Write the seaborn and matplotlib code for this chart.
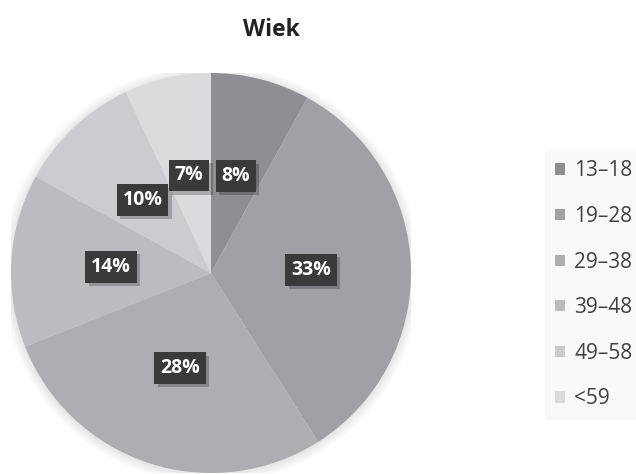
import matplotlib
matplotlib.use("Agg")
import matplotlib.pyplot as plt
import matplotlib.patheffects as pe
from matplotlib.patches import Patch, Circle
import seaborn as sns

# Age groups and their share of respondents (%)
age_groups = ["13\u201318", "19\u201328", "29\u201338", "39\u201348", "49\u201358", "<59"]
shares = [8, 33, 28, 14, 10, 7]
slice_colors = ["#8e8f93", "#a0a1a5", "#adaeb2", "#bbbcc0", "#cbcccf", "#dadbdd"]
title_text = "Wiek"

sns.set_theme(style="white")
plt.rcParams["font.family"] = ["Open Sans", "DejaVu Sans"]

fig = plt.figure(figsize=(6.36, 4.74), dpi=100)
fig.patch.set_facecolor("white")

W, H = 636, 474
cx, cy, r = 211, 273, 200
ax = fig.add_axes([(cx - r) / W, (H - cy - r) / H, 2 * r / W, 2 * r / H])
ax.set_xlim(-1, 1)
ax.set_ylim(-1, 1)
ax.set_aspect("equal")
ax.axis("off")

# soft halo around the pie
for k in range(8):
    ax.add_patch(Circle((0.0, -0.005), 1.0 + 0.006 * (k + 1), color="#808080",
                        alpha=0.018, lw=0, zorder=0))

wedges, texts, autotexts = ax.pie(
    shares, colors=slice_colors, startangle=90, counterclock=False,
    radius=1.0, autopct="%d%%", pctdistance=0.5,
    wedgeprops=dict(linewidth=0), frame=False,
)
ax.set_xlim(-1, 1)
ax.set_ylim(-1, 1)

for t in autotexts:
    t.set_color("white")
    t.set_fontweight("bold")
    t.set_fontsize(14)
    t.set_bbox(dict(boxstyle="square,pad=0.3", fc="#3a3a3a", ec="none"))
    t.get_bbox_patch().set_path_effects(
        [pe.SimplePatchShadow(offset=(2.5, -2.5), shadow_rgbFace="#000000", alpha=0.22), pe.Normal()]
    )

fig.text(271 / W, 1 - 30 / H, title_text, ha="center", va="center",
         fontsize=16.5, fontweight="bold", color="#222222")

handles = [Patch(facecolor=c, edgecolor="none") for c in slice_colors]
leg = fig.legend(
    handles, age_groups, loc="upper left",
    bbox_to_anchor=(545 / W, 1 - 150 / H), frameon=True,
    fontsize=15, labelspacing=1.18, handlelength=0.45, handleheight=0.45,
    handletextpad=0.45, borderpad=0.5, borderaxespad=0,
)
leg.get_frame().set_facecolor("#f8f8f8")
leg.get_frame().set_edgecolor("none")
for t in leg.get_texts():
    t.set_color("#404040")

fig.savefig("out.png", dpi=100)
